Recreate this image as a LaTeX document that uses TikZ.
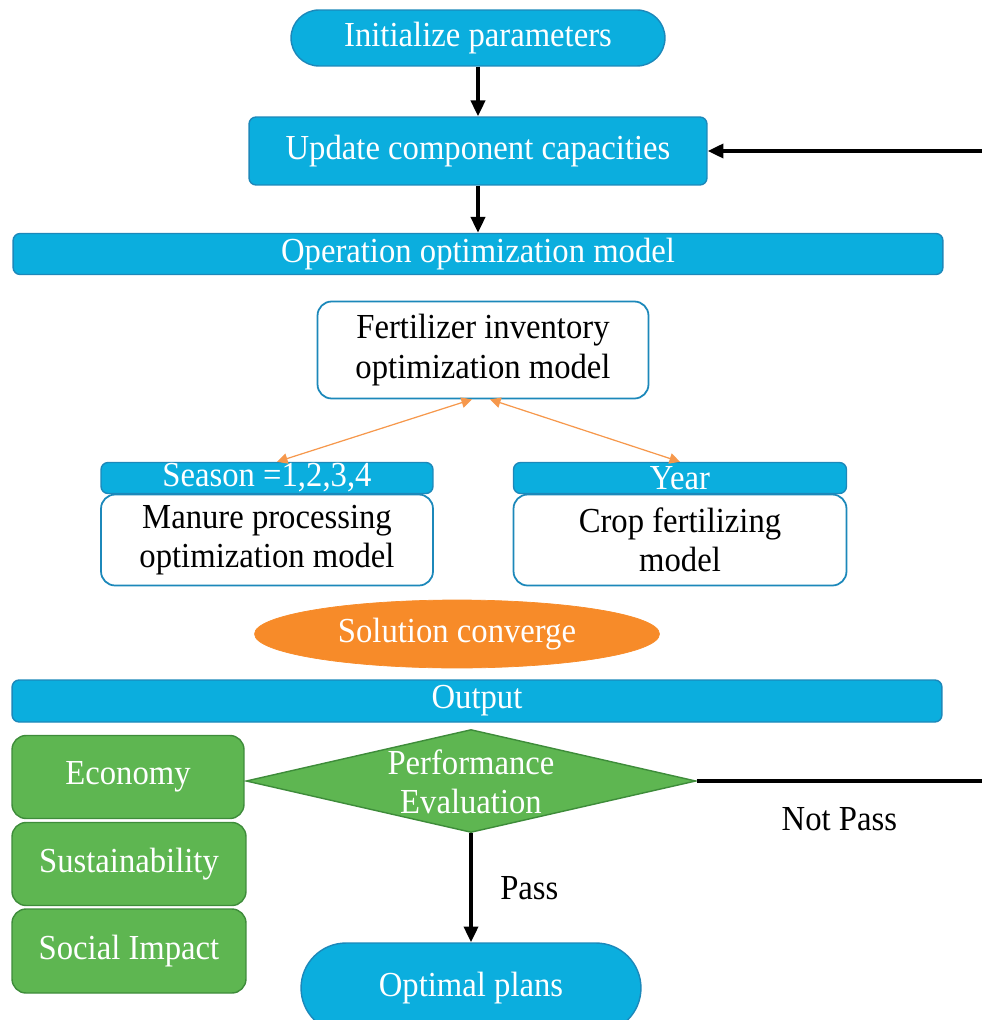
\documentclass[tikz,border=0pt]{standalone}
\usepackage{fontspec}
\setmainfont{Liberation Serif}[FakeStretch=0.93]
\usepackage{tikz}
\usetikzlibrary{shapes.geometric,shapes.misc,arrows.meta}
\definecolor{boxblue}{RGB}{11,174,222}
\definecolor{edgeblue}{RGB}{28,136,186}
\definecolor{boxgreen}{RGB}{94,182,81}
\definecolor{edgegreen}{RGB}{62,140,58}
\definecolor{boxorange}{RGB}{247,139,41}
\definecolor{lineorange}{RGB}{246,152,76}

\begin{document}
\begin{tikzpicture}[x=0.02cm, y=-0.02cm,
  txt/.style={font=\fontsize{20}{22.5}\selectfont, align=center, inner sep=0pt},
  bluebox/.style={txt, draw=edgeblue, fill=boxblue, text=white, rounded corners=4pt, line width=0.8pt},
  whitebox/.style={txt, draw=edgeblue, fill=white, rounded corners=8pt, line width=1pt},
  greenbox/.style={txt, draw=edgegreen, fill=boxgreen, text=white, rounded corners=8pt, line width=0.8pt},
  stadium/.style={txt, rounded rectangle, draw=edgeblue, fill=boxblue, text=white, line width=0.8pt},
  flow/.style={-{Triangle[length=9pt,width=8pt]}, line width=2pt},
  link/.style={{Triangle[length=6pt,width=6pt]}-{Triangle[length=6pt,width=6pt]}, lineorange, line width=0.7pt}]
  \clip (0,0) rectangle (982,1020);

  \node[stadium, minimum width=7.48cm, minimum height=1.12cm] (init) at (478,38) {Initialize parameters};
  \node[bluebox, minimum width=9.16cm, minimum height=1.36cm] (update) at (478,151) {Update component capacities};
  \node[bluebox, minimum width=18.6cm, minimum height=0.82cm] (oper) at (478,254) {Operation optimization model};

  \node[whitebox, minimum width=6.62cm, minimum height=1.94cm] (fert) at (483,350) {Fertilizer inventory\\optimization model};
  \node[bluebox, minimum width=6.64cm, minimum height=0.62cm] (season) at (267,478) {Season =1,2,3,4};
  \node[whitebox, minimum width=6.64cm, minimum height=1.82cm] (manure) at (267,540) {Manure processing\\optimization model};
  \node[bluebox, minimum width=6.66cm, minimum height=0.62cm] (year) at (680,478) {Year};
  \node[whitebox, minimum width=6.66cm, minimum height=1.82cm] (crop) at (680,540) {Crop fertilizing\\model};

  \node[txt, ellipse, draw=boxorange, fill=boxorange, text=white, minimum width=8.1cm, minimum height=1.36cm] (conv) at (457,634) {Solution converge};
  \node[bluebox, minimum width=18.6cm, minimum height=0.84cm] (output) at (477,701) {Output};

  \node[greenbox, minimum width=4.64cm, minimum height=1.66cm] (econ) at (128,777) {Economy};
  \node[greenbox, minimum width=4.68cm, minimum height=1.66cm] (sust) at (129,864) {Sustainability};
  \node[greenbox, minimum width=4.68cm, minimum height=1.68cm] (social) at (129,951) {Social Impact};

  \node[diamond, draw=edgegreen, fill=boxgreen, line width=0.8pt, minimum width=9cm, minimum height=2.06cm, inner sep=0pt] (perf) at (471,781) {};
  \node[txt, text=white] (perftxt) at (471,782) {Performance\\Evaluation};
  \node[stadium, minimum width=6.8cm, minimum height=1.8cm] (optimal) at (471,988) {Optimal plans};

  \coordinate (rtop) at (982,151);
  \coordinate (rbot) at (982,781);

  \draw[flow] (init.south) -- (update.north);
  \draw[flow] (update.south) -- (oper.north);
  \draw[flow] (rtop) -- (update.east);
  \draw[link] ([xshift=-0.22cm]fert.south) -- ([xshift=0.2cm]season.north);
  \draw[link] ([xshift=0.14cm]fert.south) -- (year.north);
  \draw[flow] (perf.south) -- (optimal.north) node[txt, midway, right=0.55cm] (passlbl) {Pass};
  \draw[line width=2pt] (perf.east) -- (rbot) node[txt, midway, below=0.5cm] (notpass) {Not Pass};
\end{tikzpicture}
\end{document}
